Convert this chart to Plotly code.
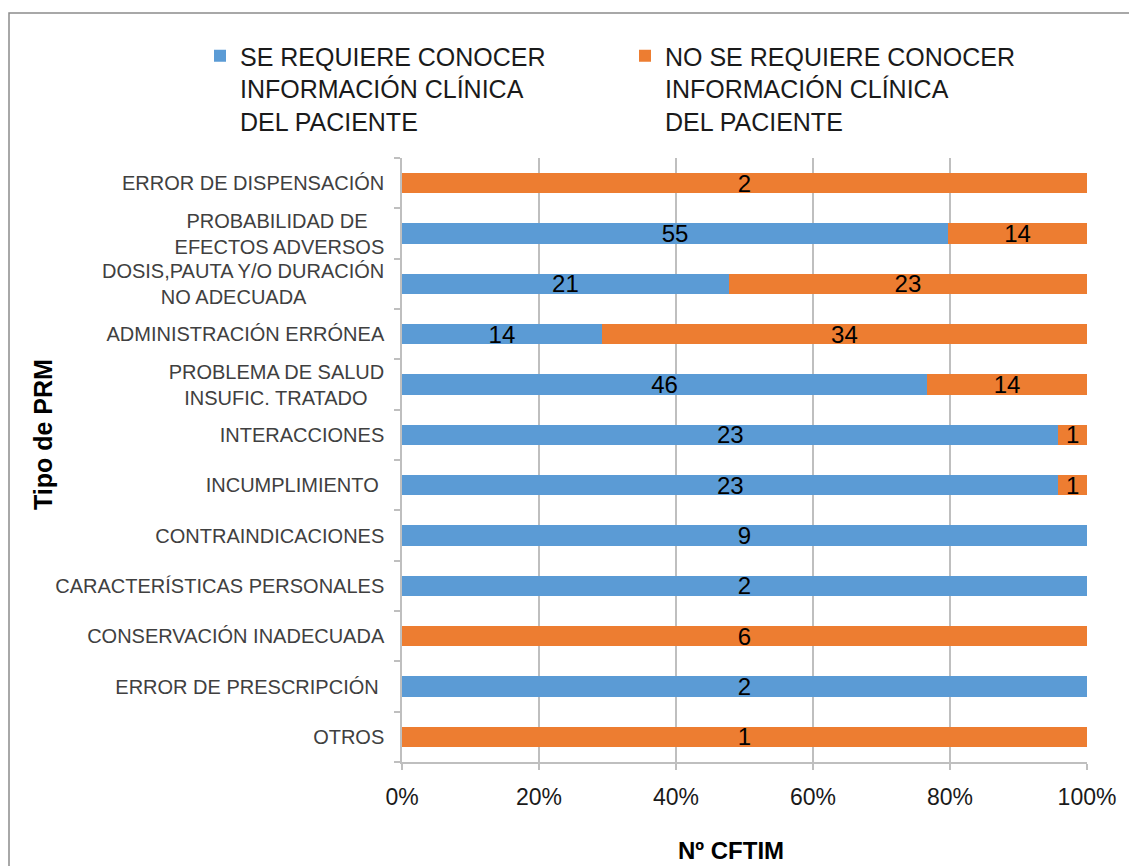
import plotly.graph_objects as go

# Problem types (top to bottom as displayed)
categorias = [
    "ERROR DE DISPENSACIÓN",
    "PROBABILIDAD DE \u00a0\u00a0<br>EFECTOS ADVERSOS",
    "DOSIS,PAUTA Y/O DURACIÓN<br>NO ADECUADA\u00a0\u00a0\u00a0\u00a0\u00a0\u00a0\u00a0\u00a0\u00a0\u00a0\u00a0\u00a0\u00a0\u00a0",
    "ADMINISTRACIÓN ERRÓNEA",
    "PROBLEMA DE SALUD<br>INSUFIC. TRATADO\u00a0\u00a0\u00a0",
    "INTERACCIONES",
    "INCUMPLIMIENTO\u00a0",
    "CONTRAINDICACIONES",
    "CARACTERÍSTICAS PERSONALES",
    "CONSERVACIÓN INADECUADA",
    "ERROR DE PRESCRIPCIÓN\u00a0",
    "OTROS",
]

# Number of CFTIM per problem type
se_requiere = [0, 55, 21, 14, 46, 23, 23, 9, 2, 0, 2, 0]
no_se_requiere = [2, 14, 23, 34, 14, 1, 1, 0, 0, 6, 0, 1]

nombre_se = "SE REQUIERE CONOCER<br>INFORMACIÓN CLÍNICA<br>DEL PACIENTE"
nombre_no = "NO SE REQUIERE CONOCER<br>INFORMACIÓN CLÍNICA<br>DEL PACIENTE"

AZUL = "#5B9BD5"
NARANJA = "#ED7D31"
FONT = "Liberation Sans, Arial, sans-serif"

# plot area in pixels
L, R, T, B = 402, 1087, 158, 762
PW, PH = R - L, B - T


def etiquetas(vals):
    return [str(v) if v > 0 else "" for v in vals]


fig = go.Figure()
for nombre, vals, color in [
    (nombre_se, se_requiere, AZUL),
    (nombre_no, no_se_requiere, NARANJA),
]:
    fig.add_trace(go.Bar(
        y=categorias,
        x=vals,
        name=nombre,
        orientation="h",
        marker=dict(color=color, line=dict(width=0)),
        width=0.4,
        text=etiquetas(vals),
        textposition="inside",
        insidetextanchor="middle",
        constraintext="none",
        textangle=0,
        textfont=dict(family=FONT, size=24, color="#000000"),
        hoverinfo="skip",
    ))

fig.update_layout(
    width=1129,
    height=866,
    barmode="stack",
    barnorm="percent",
    paper_bgcolor="white",
    plot_bgcolor="white",
    margin=dict(l=L, r=1129 - R, t=T, b=866 - B, autoexpand=False),
    font=dict(family=FONT, color="#404040"),
    showlegend=True,
    legend=dict(
        orientation="h",
        x=(200 - L) / PW, xanchor="left",
        y=(B - 33) / PH, yanchor="top",
        font=dict(family=FONT, size=25, color="#1a1a1a"),
        itemwidth=30,
        valign="top",
        traceorder="normal",
        entrywidth=380,
        tracegroupgap=0,
        bgcolor="rgba(0,0,0,0)",
    ),
    shapes=[dict(
        type="rect", xref="paper", yref="paper",
        x0=(9 - L) / PW, x1=(1140 - L) / PW,
        y0=(B - 900) / PH, y1=(B - 13) / PH,
        line=dict(color="#8c8c8c", width=1.5),
        fillcolor="rgba(0,0,0,0)", layer="below",
    )],
    annotations=[
        dict(
            text="<b>Tipo de PRM</b>", xref="paper", yref="paper",
            x=(43 - L) / PW, y=(B - 435) / PH, textangle=-90,
            showarrow=False, font=dict(family=FONT, size=25, color="#000000"),
            xanchor="center", yanchor="middle",
        ),
        dict(
            text="<b>Nº CFTIM</b>", xref="paper", yref="paper",
            x=(731 - L) / PW, y=(B - 850) / PH,
            showarrow=False, font=dict(family=FONT, size=24, color="#000000"),
            xanchor="center", yanchor="middle",
        ),
    ],
)

fig.update_xaxes(
    range=[0, 100],
    tickvals=[0, 20, 40, 60, 80, 100],
    ticktext=["0%", "20%", "40%", "60%", "80%", "100%"],
    showgrid=True, gridcolor="#bfbfbf", gridwidth=1.5,
    showline=True, linecolor="#bfbfbf", linewidth=1.5,
    ticks="outside", ticklen=6, tickcolor="#bfbfbf", tickwidth=1.5,
    tickfont=dict(family=FONT, size=23, color="#1a1a1a"),
    ticklabelstandoff=8,
    zeroline=False,
    fixedrange=True,
)

fig.update_yaxes(
    categoryorder="array",
    categoryarray=categorias[::-1],
    autorange=False,
    range=[-0.5, len(categorias) - 0.5],
    showline=True, linecolor="#bfbfbf", linewidth=1.5,
    ticks="outside", ticklen=6, tickcolor="#bfbfbf", tickwidth=1.5,
    tickson="boundaries",
    showgrid=False,
    tickfont=dict(family=FONT, size=20, color="#404040"),
    ticklabelstandoff=12,
    fixedrange=True,
)

fig.write_html("out.html")
